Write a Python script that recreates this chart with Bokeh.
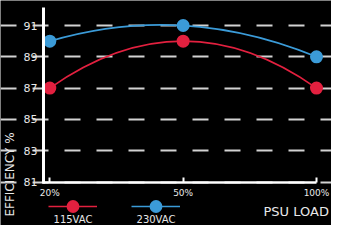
from math import pi
from bokeh.plotting import figure
from bokeh.models import Range1d, FixedTicker, Label, Legend, LegendItem
from bokeh.embed import file_html
from bokeh.resources import INLINE

# ---- data ----
loads = ["20%", "50%", "100%"]
eff_115 = [87, 90, 87]
eff_230 = [90, 91, 89]
y_ticks = [81, 83, 85, 87, 89, 91]
series_names = ["115VAC", "230VAC"]
series_colors = ["#e2203f", "#3b9bd8"]

# ---- layout (canvas pixels) ----
W, H = 331, 225
AX_LEFT, AX_TOP, AX_BOTTOM = 43, 7, 182
PX_X0, PX_PER_X = 49.3, 133.35
PX_Y0, PX_PER_Y = 181.5, 15.65
FONT = "DejaVu Sans"
TXT = "#e8e8e8"

xs = list(range(len(loads)))


def data_x(px):
    return (px - PX_X0) / PX_PER_X


def data_y(py):
    return y_ticks[0] + (PX_Y0 - py) / PX_PER_Y


p = figure(width=W, height=H, output_backend="svg", toolbar_location=None,
           x_range=Range1d(data_x(0), data_x(W)),
           y_range=Range1d(data_y(H), data_y(0)),
           min_border=0,
           background_fill_color="black", border_fill_color="black",
           outline_line_color=None)

# grid
p.xgrid.visible = False
p.ygrid.ticker = FixedTicker(ticks=y_ticks)
p.ygrid.bounds = (data_x(AX_LEFT + 1), data_x(W))
p.ygrid.grid_line_color = "#d2d2d2"
p.ygrid.grid_line_width = 2
p.ygrid.grid_line_dash = "16 16"

# axes (drawn inside the frame at fixed locations)
p.xaxis.fixed_location = data_y(AX_BOTTOM)
p.xaxis.ticker = FixedTicker(ticks=xs)
p.xaxis.major_label_overrides = {i: l for i, l in enumerate(loads)}
p.xaxis.bounds = (data_x(AX_LEFT - 1.5), xs[-1])
p.xaxis.axis_line_color = "white"
p.xaxis.axis_line_width = 2.5
p.xaxis.major_tick_in = 5
p.xaxis.major_tick_out = 0
p.xaxis.major_tick_line_color = "white"
p.xaxis.major_tick_line_width = 2
p.xaxis.minor_tick_line_color = None
p.xaxis.major_label_text_color = TXT
p.xaxis.major_label_text_font = FONT
p.xaxis.major_label_text_font_size = "9px"
p.xaxis.major_label_standoff = 5

p.yaxis.fixed_location = data_x(AX_LEFT)
p.yaxis.ticker = FixedTicker(ticks=y_ticks)
p.yaxis.bounds = (data_y(AX_BOTTOM + 1), data_y(AX_TOP))
p.yaxis.axis_line_color = "white"
p.yaxis.axis_line_width = 3
p.yaxis.major_tick_in = 0
p.yaxis.major_tick_out = 0
p.yaxis.minor_tick_line_color = None
p.yaxis.major_label_text_color = TXT
p.yaxis.major_label_text_font = FONT
p.yaxis.major_label_text_font_size = "11px"
p.yaxis.major_label_standoff = 6

# series
items = []
for name, vals, col in zip(series_names, [eff_115, eff_230], series_colors):
    # smooth curve: quadratic through the three points
    p.quadratic(x0=[xs[0]], y0=[vals[0]], x1=[xs[2]], y1=[vals[2]],
                cx=[2 * xs[1] - (xs[0] + xs[2]) / 2],
                cy=[2 * vals[1] - (vals[0] + vals[2]) / 2],
                line_color=col, line_width=1.6)
    ln = p.line(xs, vals, line_color=col, line_width=1.6, visible=False)
    sc = p.scatter(xs, vals, size=13, fill_color=col, line_color=None)
    items.append(LegendItem(label="", renderers=[ln, sc]))

# legend samples: centre at y=206 px, glyph box 32 px high
legend = Legend(items=items, location=(48, H - 206 - 16),
                orientation="horizontal", glyph_width=49, glyph_height=32,
                spacing=131 - 48 - 49, padding=0, margin=0,
                label_standoff=0, label_width=0, label_height=0,
                border_line_color=None, background_fill_alpha=0,
                inactive_fill_alpha=0)
p.add_layout(legend)

# legend labels under the samples
for name, cx in zip(series_names, [72.5, 155.5]):
    p.add_layout(Label(x=data_x(cx), y=data_y(218.5), text=name,
                       text_align="center", text_baseline="middle",
                       text_color=TXT, text_font=FONT, text_font_size="10px"))

# axis titles
p.add_layout(Label(x=data_x(263), y=data_y(211), text="PSU LOAD",
                   text_align="left", text_baseline="middle",
                   text_color=TXT, text_font=FONT, text_font_size="13px"))
p.add_layout(Label(x=data_x(9.5), y=data_y(174), text="EFFICIENCY %", angle=pi / 2,
                   text_align="center", text_baseline="middle",
                   text_color=TXT, text_font=FONT, text_font_size="12px"))

open("out.html", "w").write(file_html(p, INLINE))
